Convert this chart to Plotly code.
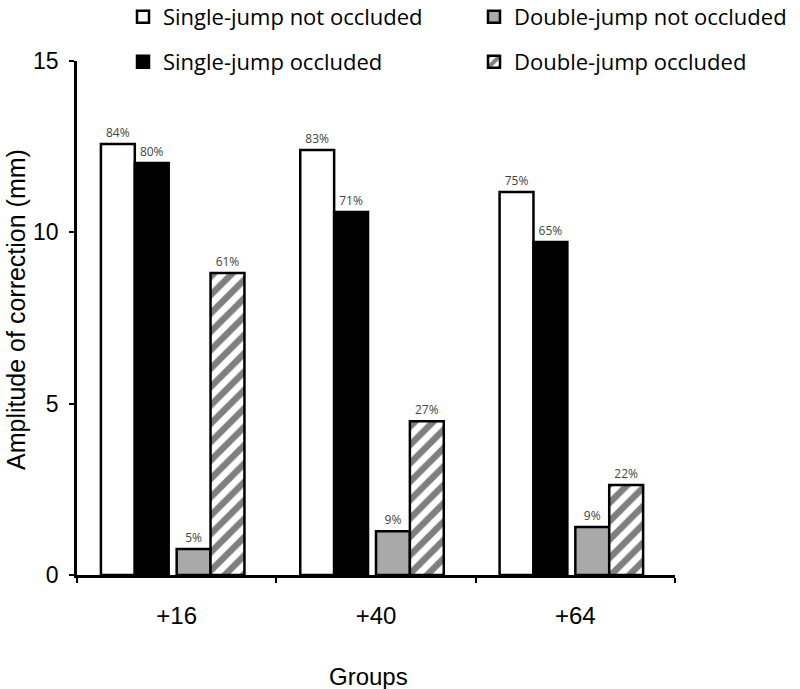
import plotly.graph_objects as go

groups = ["+16", "+40", "+64"]
series_names = ["Single-jump not occluded", "Single-jump occluded",
                "Double-jump not occluded", "Double-jump occluded"]
single_not_occ = [12.58, 12.40, 11.18]
single_occ = [12.02, 10.59, 9.72]
double_not_occ = [0.76, 1.28, 1.40]
double_occ = [8.81, 4.49, 2.63]
pct_single_not_occ = ["84%", "83%", "75%"]
pct_single_occ = ["80%", "71%", "65%"]
pct_double_not_occ = ["5%", "9%", "9%"]
pct_double_occ = ["61%", "27%", "22%"]
y_ticks = [0, 5, 10, 15]

LEG_FONT = "Open Sans"
AX_FONT = "Liberation Sans, Arial, sans-serif"
W, H = 800, 689
L, R, T, B = 77, 125, 61, 114

bar_w = 0.17
specs = [
    (series_names[0], single_not_occ, pct_single_not_occ, -0.38, dict(color="white"), "legend"),
    (series_names[1], single_occ, pct_single_occ, -0.21, dict(color="black"), "legend2"),
    (series_names[2], double_not_occ, pct_double_not_occ, 0.0, dict(color="#a9a9a9"), "legend3"),
    (series_names[3], double_occ, pct_double_occ, 0.17,
     dict(color="white", pattern=dict(shape="/", fgcolor="black", bgcolor="white",
                                      size=13, solidity=0.5)), "legend4"),
]

fig = go.Figure()
for name, vals, pct, off, mk, lg in specs:
    marker = dict(mk)
    marker["line"] = dict(color="black", width=2.5)
    fig.add_trace(go.Bar(
        name=name, x=groups, y=vals, width=bar_w, offset=off,
        marker=marker, text=pct, textposition="outside",
        textfont=dict(family=LEG_FONT, size=12, color="#444"),
        constraintext="none", cliponaxis=False,
        legend=lg,
    ))

def leg(xpx, ypx):
    return dict(orientation="h", x=xpx / W, y=1 - ypx / H, xanchor="left", yanchor="middle",
                xref="container", yref="container",
                font=dict(family=LEG_FONT, size=22, color="black"),
                bgcolor="rgba(0,0,0,0)", borderwidth=0)

pw, ph = W - L - R, H - T - B
fig.update_layout(
    width=W, height=H,
    margin=dict(l=L, r=R, t=T, b=B, autoexpand=False),
    plot_bgcolor="white", paper_bgcolor="white",
    barmode="overlay",
    showlegend=True,
    legend=leg(123, 17),
    legend2=leg(123, 62),
    legend3=leg(474, 17),
    legend4=leg(474, 62),
    xaxis=dict(range=[-0.5, 2.5], showline=True, linecolor="black", linewidth=2.5,
               ticks="outside", tickson="boundaries", ticklen=5, tickwidth=2,
               tickcolor="black", showgrid=False, zeroline=False,
               tickfont=dict(family=AX_FONT, size=24, color="black"),
               ticklabelstandoff=17),
    yaxis=dict(range=[0, 15], tickvals=y_ticks, showline=True, linecolor="black",
               linewidth=2.5, ticks="outside", ticklen=5, tickwidth=2, tickcolor="black",
               showgrid=False, zeroline=False, ticklabelstandoff=6,
               tickfont=dict(family=AX_FONT, size=23, color="black")),
    annotations=[
        dict(text="Amplitude of correction (mm)", textangle=-90, showarrow=False,
             xref="paper", yref="paper", x=(16 - L) / pw, y=(H - B - 310) / ph,
             xanchor="center", yanchor="middle",
             font=dict(family=AX_FONT, size=25, color="black")),
        dict(text="Groups", showarrow=False,
             xref="paper", yref="paper", x=(368 - L) / pw, y=(H - B - 676) / ph,
             xanchor="center", yanchor="middle",
             font=dict(family=AX_FONT, size=24, color="black")),
    ],
)

fig.write_html("out.html", config={"displayModeBar": False},
               post_script="document.body.style.margin='0';")
